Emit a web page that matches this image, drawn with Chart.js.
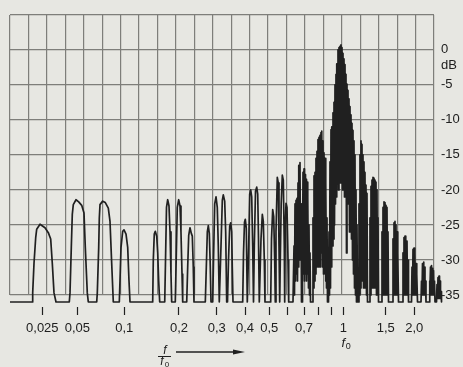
<!DOCTYPE html>
<html>
<head>
<meta charset="utf-8">
<script src="https://cdn.jsdelivr.net/npm/chart.js@4.4.0/dist/chart.umd.min.js"></script>
<style>
  html, body { margin: 0; padding: 0; background: #e7e7e2; }
  canvas { display: block; }
</style>
</head>
<body>
<canvas id="spectrum" width="463" height="367"></canvas>
<script>
// trace: f/f0 and level in dB (one line per lobe / group of lines)
const freq = [
  0.01319,
  0.02051, 0.02067, 0.02121, 0.02194, 0.02238, 0.02389, 0.02637, 0.02816, 0.02952, 0.03048, 0.03152, 0.03279,
  0.04267, 0.04327, 0.04440, 0.04528, 0.04619, 0.04872, 0.05104, 0.05335, 0.05519, 0.05626, 0.05794, 0.05881,
  0.06657, 0.06716, 0.06856, 0.06917, 0.06989, 0.07272, 0.07557, 0.07899, 0.08099, 0.08304, 0.08503,
  0.09290, 0.09386, 0.09526, 0.09768, 0.09956, 0.1022, 0.1044, 0.1061, 0.1075,
  0.1433, 0.1444, 0.1462, 0.1481, 0.1508, 0.1527, 0.1546, 0.1566,
  0.1669, 0.1686, 0.1707, 0.1733, 0.1762, 0.1785, 0.1807, 0.1823,
  0.1908, 0.1930, 0.1957, 0.1992, 0.2022, 0.2043, 0.2066, 0.2081,
  0.2173, 0.2196, 0.2220, 0.2251, 0.2283, 0.2308, 0.2332, 0.2350,
  0.2654, 0.2683, 0.2712, 0.2741, 0.2771, 0.2800, 0.2822,
  0.2874, 0.2899, 0.2936, 0.2978, 0.3018, 0.3049, 0.3080,
  0.3102, 0.3134, 0.3176, 0.3208, 0.3254, 0.3287, 0.3321,
  0.3348, 0.3382, 0.3424, 0.3459, 0.3494, 0.3515, 0.3541,
  0.3907, 0.3940, 0.3980, 0.4011, 0.4048, 0.4085,
  0.4138, 0.4176, 0.4215, 0.4254, 0.4293, 0.4325,
  0.4357, 0.4405, 0.4454, 0.4495, 0.4528, 0.4561,
  0.4633, 0.4689, 0.4732, 0.4776, 0.4806,
  0.5071, 0.5113, 0.5175, 0.5228, 0.5281, 0.5313,
  0.5351, 0.5422, 0.5477, 0.5516, 0.5556,
  0.5589, 0.5640, 0.5704, 0.5762, 0.5820, 0.5844,
  0.5880, 0.5922, 0.5982, 0.6039, 0.6078,
  0.6324, 0.6383, 0.6412, 0.6442, 0.6472, 0.6502, 0.6532, 0.6562, 0.6592, 0.6623, 0.6654, 0.6684, 0.6715, 0.6746, 0.6778, 0.6809, 0.6841, 0.6872,
  0.6904, 0.6936, 0.6968, 0.7000, 0.7033, 0.7066, 0.7099, 0.7132, 0.7165, 0.7199, 0.7233, 0.7266, 0.7300, 0.7334, 0.7369, 0.7403, 0.7438, 0.7578,
  0.7613, 0.7649, 0.7685, 0.7721, 0.7757, 0.7793, 0.7829, 0.7866, 0.7903, 0.7940, 0.7977, 0.8015, 0.8052, 0.8090, 0.8127, 0.8165,
  0.8203, 0.8241, 0.8279, 0.8318, 0.8356, 0.8395, 0.8434, 0.8474, 0.8513, 0.8553, 0.8592, 0.8632, 0.8672, 0.8713, 0.8794,
  0.8835, 0.8876, 0.8917, 0.8958, 0.9000, 0.9039, 0.9077, 0.9116, 0.9155, 0.9195, 0.9234, 0.9274, 0.9314, 0.9354, 0.9394, 0.9434,
  0.9474, 0.9515, 0.9556, 0.9597, 0.9638, 0.9679, 0.9721, 0.9762, 0.9804, 0.9846, 0.9889, 0.9931, 0.9974, 1.0019, 1.0067, 1.0115,
  1.0164, 1.0212, 1.0261, 1.0310, 1.0360, 1.0409, 1.0459, 1.0509, 1.0560, 1.0610, 1.0661, 1.0712, 1.0764, 1.0815, 1.0867, 1.0919,
  1.0971, 1.1024, 1.1077, 1.1130, 1.1183, 1.1237, 1.1291, 1.1345, 1.1399, 1.1454, 1.1564,
  1.1619, 1.1675, 1.1731, 1.1787, 1.1844, 1.1900, 1.1957, 1.2015, 1.2072, 1.2130, 1.2188, 1.2247, 1.2305, 1.2364, 1.2424, 1.2483, 1.2543, 1.2603, 1.2847,
  1.2908, 1.2970, 1.3032, 1.3095, 1.3157, 1.3220, 1.3284, 1.3348, 1.3412, 1.3476, 1.3541, 1.3605, 1.3671, 1.3736, 1.3802, 1.3868, 1.3935, 1.4002, 1.4409,
  1.4478, 1.4548, 1.4617, 1.4687, 1.4758, 1.4829, 1.4900, 1.4971, 1.5045, 1.5121, 1.5197, 1.5274, 1.5351, 1.5428, 1.6062,
  1.6143, 1.6224, 1.6306, 1.6388, 1.6471, 1.6554, 1.6637, 1.6721, 1.6806, 1.6890, 1.6975, 1.7061, 1.7761,
  1.7851, 1.7941, 1.8031, 1.8122, 1.8214, 1.8306, 1.8398, 1.8491, 1.8584, 1.8678, 1.8772, 1.8867, 1.9445,
  1.9543, 1.9642, 1.9741, 1.9840, 1.9940, 2.0040, 2.0141, 2.0243, 2.0345, 2.0447, 2.0550, 2.0654, 2.1393,
  2.1501, 2.1609, 2.1718, 2.1828, 2.1938, 2.2048, 2.2159, 2.2271, 2.2383, 2.2496, 2.3185,
  2.3302, 2.3419, 2.3537, 2.3656, 2.3775, 2.3895, 2.4015, 2.4136, 2.4258, 2.4380, 2.4503, 2.4627, 2.5001,
  2.5127, 2.5254, 2.5381, 2.5509, 2.5637, 2.5767, 2.5896, 2.6027, 2.6158, 2.6290
];
const level = [
  -36,
  -36, -34.7, -30.5, -26.8, -25.6, -24.9, -25.4, -26.1, -27.0, -30.5, -34.7, -36,
  -36, -34.7, -28.2, -23.5, -22.1, -21.4, -21.7, -22.2, -23.3, -28.2, -34.7, -36,
  -36, -34.7, -28.2, -24.0, -22.1, -21.6, -21.8, -22.6, -24.5, -30.5, -36,
  -36, -32.9, -28.2, -25.9, -25.7, -26.3, -28.2, -32.9, -36,
  -36, -30, -26.3, -25.9, -26.6, -29, -33, -36,
  -36, -30, -22.5, -21.4, -22.3, -26, -32, -36,
  -36, -30, -22.5, -21.4, -22.3, -26, -32, -36,
  -36, -31, -26.5, -25.4, -26.2, -26.6, -31, -36,
  -36, -31, -26, -25.1, -26.2, -31, -36,
  -36, -30, -22, -21.0, -22.5, -28, -36,
  -36, -28, -21.5, -20.7, -21.6, -26, -36,
  -36, -30, -25.2, -24.7, -26, -31, -36,
  -36, -29, -24.6, -24.2, -25.5, -36,
  -28, -20.6, -20, -21, -28, -36,
  -28, -20.2, -19.6, -20.6, -27, -36,
  -27, -23.5, -24.5, -30, -36,
  -36, -27, -22.8, -23.8, -30, -36,
  -26, -18.2, -19, -28, -36,
  -30, -22, -17.9, -18.6, -28, -36,
  -25, -21.9, -22.5, -30, -36,
  -36, -28, -35, -22, -33, -21.5, -32, -21.2, -33, -19, -31, -16.5, -30, -16.1, -30, -22, -36, -36,
  -30, -17.5, -32, -17, -33, -17.8, -32, -18.5, -33, -18.9, -32, -21, -34, -25, -35, -29, -36, -36,
  -24, -34, -18, -33, -17.5, -32, -15.5, -31, -14.5, -30, -12.8, -31, -12.5, -30, -12.2, -31,
  -11.8, -29, -11.6, -31, -13, -32, -14.7, -31, -15.5, -33, -19, -34, -24, -36, -36,
  -26, -35, -16, -34, -11.4, -31, -11, -28, -9, -27, -7.5, -25, -5, -22, -3.5, -21,
  -2, -18, 0, -20, 0.3, -16, 0.5, -19, 0.7, -15, 0.3, -20, -0.5, -17, -1.3, -21,
  -2.1, -18, -3.5, -29, -4.9, -20, -5.8, -22, -7, -26, -8.1, -24, -9.3, -27, -10.5, -30,
  -11.5, -32, -13, -34, -15, -35, -20, -36, -25, -36, -36,
  -22, -35, -15, -34, -13, -33, -13.5, -33, -15, -34, -16, -34, -17.5, -34, -19.3, -35, -20.5, -36, -36,
  -24, -35, -19.5, -34, -18.6, -34, -18.2, -34, -18.3, -34, -18.6, -34, -18.9, -35, -20, -35, -24, -36, -36,
  -26, -35, -22.5, -35, -21.7, -35, -21.8, -35, -22.2, -35, -22.5, -35, -26, -36, -36,
  -27, -35, -24.7, -35, -24.5, -35, -25, -35, -26, -35, -29, -36, -36,
  -29, -35, -26.8, -35, -26.6, -35, -27, -35, -27.3, -35, -30, -36, -36,
  -31, -35, -28.5, -35, -28.3, -35, -29, -35, -30.5, -35, -32, -36, -36,
  -33, -35, -30.5, -35, -30.3, -35, -31, -35, -33, -36, -36,
  -33, -35, -31, -35, -30.8, -35, -31.2, -35, -31.5, -35, -33, -36, -36,
  -33.5, -35.5, -32.5, -35.5, -32.3, -35.5, -33, -35.5, -34.5, -36
];

const tickValues = [0.025, 0.05, 0.1, 0.2, 0.3, 0.4, 0.5, 0.6, 0.7, 0.8, 0.9, 1, 1.5, 2];
const tickLabels = ['0,025', '0,05', '0,1', '0,2', '0,3', '0,4', '0,5', '', '0,7', '', '', '1', '1,5', '2,0'];
const dbTicks = [-35, -30, -25, -20, -15, -10, -5, 0, 5];
const dbLabels = ['-35', '-30', '-25', '-20', '-15', '-10', '-5', '0', ''];

// the printed frequency scale is not a clean log scale: where each f/f0 sits (0 = left edge, 1 = right edge)
const scaleF = [0.01319, 0.025, 0.05, 0.1, 0.2, 0.3, 0.4, 0.5, 0.6, 0.7, 0.8, 0.9, 1, 1.5, 2, 2.438];
const scalePos = [0, 0.07618, 0.15873, 0.26958, 0.39858, 0.4875, 0.55425, 0.61156, 0.65401, 0.6934, 0.72712, 0.75708, 0.78608, 0.88608, 0.95354, 1];

const ink = '#202020';
const gridGrey = '#7e7e7a';
const font = '"Liberation Sans", Arial, sans-serif';

function seg(arr, v) {
  let i = 0;
  while (i < arr.length - 2 && v > arr[i + 1]) i++;
  return i;
}

class PrintedScale extends Chart.Scale {
  determineDataLimits() {
    this.min = scaleF[0];
    this.max = scaleF[scaleF.length - 1];
  }
  buildTicks() {
    return tickValues.map(v => ({ value: v }));
  }
  getLabelForValue(v) {
    return String(v);
  }
  getPixelForValue(v) {
    const i = seg(scaleF, v);
    const a = Math.log10(scaleF[i]), b = Math.log10(scaleF[i + 1]);
    const d = scalePos[i] + (Math.log10(v) - a) / (b - a) * (scalePos[i + 1] - scalePos[i]);
    return this.getPixelForDecimal(d);
  }
  getPixelForTick(i) {
    return this.getPixelForValue(this.ticks[i].value);
  }
  getValueForPixel(p) {
    const d = this.getDecimalForPixel(p);
    const i = seg(scalePos, d);
    const a = Math.log10(scaleF[i]), b = Math.log10(scaleF[i + 1]);
    return Math.pow(10, a + (d - scalePos[i]) / (scalePos[i + 1] - scalePos[i]) * (b - a));
  }
}
PrintedScale.id = 'printed';
PrintedScale.defaults = {};
Chart.register(PrintedScale);

const paper = {
  id: 'paper',
  beforeDraw(chart) {
    const { ctx, width, height } = chart;
    ctx.save();
    ctx.fillStyle = '#e7e7e2';
    ctx.fillRect(0, 0, width, height);
    ctx.restore();
  },
  afterDraw(chart) {
    const { ctx, chartArea } = chart;
    const xs = chart.scales.x, ys = chart.scales.y;
    ctx.save();
    ctx.fillStyle = ink;
    ctx.strokeStyle = ink;
    ctx.textBaseline = 'middle';

    ctx.font = '13px ' + font;
    ctx.textAlign = 'left';
    ctx.fillText('dB', chartArea.right + 7, ys.getPixelForValue(0) + 15.5);

    // f0 under the "1" tick
    const x1 = xs.getPixelForValue(1);
    ctx.font = 'italic 13px ' + font;
    ctx.textAlign = 'center';
    ctx.fillText('f', x1, 343);
    ctx.font = '9px ' + font;
    ctx.fillText('0', x1 + 5, 347);

    // f / f0 with arrow
    ctx.font = 'italic 12px ' + font;
    ctx.fillText('f', 165, 351);
    ctx.lineWidth = 1;
    ctx.beginPath();
    ctx.moveTo(158, 356.5);
    ctx.lineTo(171, 356.5);
    ctx.stroke();
    ctx.fillText('f', 162, 362);
    ctx.font = '8px ' + font;
    ctx.fillText('0', 167, 365);

    ctx.lineWidth = 1.3;
    ctx.beginPath();
    ctx.moveTo(176, 352);
    ctx.lineTo(236, 352);
    ctx.stroke();
    ctx.beginPath();
    ctx.moveTo(245, 352);
    ctx.lineTo(233, 349.5);
    ctx.lineTo(233, 354.5);
    ctx.closePath();
    ctx.fill();
    ctx.restore();
  }
};

new Chart(document.getElementById('spectrum'), {
  type: 'line',
  data: {
    datasets: [{
      label: 'Pegel',
      data: freq.map((f, i) => ({ x: f, y: level[i] })),
      borderColor: ink,
      borderWidth: 1.7,
      borderJoinStyle: 'round',
      pointRadius: 0,
      tension: 0,
      fill: false,
      clip: false,
      xAxisID: 'x',
      yAxisID: 'y'
    }]
  },
  options: {
    responsive: false,
    animation: false,
    events: [],
    layout: { padding: { left: 10, top: 10, right: 0, bottom: 0 } },
    plugins: { legend: { display: false }, tooltip: { enabled: false } },
    scales: {
      x: {
        type: 'printed',
        position: 'bottom',
        afterFit: s => { s.height = 72; },
        border: { display: false },
        grid: {
          drawOnChartArea: false,
          tickLength: 20,
          tickColor: ink,
          tickWidth: 1.2,
          tickBorderDash: [0, 12, 8, 100]
        },
        ticks: {
          autoSkip: false,
          maxRotation: 0,
          padding: 6,
          color: ink,
          font: { family: font, size: 13 },
          callback: (v, i) => tickLabels[i]
        }
      },
      paper: {
        type: 'linear',
        position: 'top',
        min: 0,
        max: 23,
        afterFit: s => { s.height = 0; },
        border: { display: false },
        grid: { color: gridGrey, lineWidth: 1.2, drawTicks: false },
        ticks: { display: false, stepSize: 1 }
      },
      y: {
        type: 'linear',
        position: 'right',
        min: -35,
        max: 5,
        afterFit: s => { s.width = 29; },
        afterBuildTicks: s => { s.ticks = dbTicks.map(v => ({ value: v })); },
        border: { display: false },
        grid: { color: gridGrey, lineWidth: 1.2, drawTicks: false },
        ticks: {
          autoSkip: false,
          padding: 7,
          color: ink,
          font: { family: font, size: 13 },
          callback: (v, i) => dbLabels[i]
        }
      }
    }
  },
  plugins: [paper]
});
</script>
</body>
</html>
